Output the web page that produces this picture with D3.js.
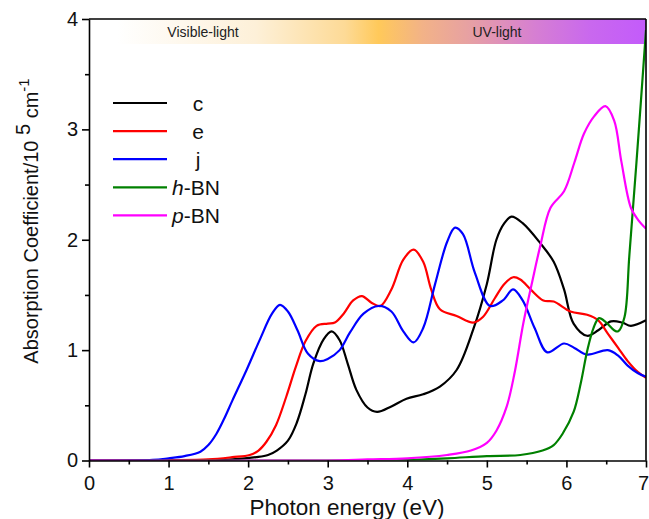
<!DOCTYPE html>
<html>
<head>
<meta charset="utf-8">
<script src="https://cdn.jsdelivr.net/npm/d3@7"></script>
<style>
  html, body { margin: 0; padding: 0; background: #fff; }
  svg { display: block; font-family: "Liberation Sans", Arial, sans-serif; }
</style>
</head>
<body>
<svg id="chart" width="649" height="519"></svg>
<script>
// Absorption spectra: photon energy (eV) vs absorption coefficient (10^5 cm^-1)
const cEnergy = [0, 1, 1.8, 2.1, 2.25, 2.36, 2.5, 2.61, 2.72, 2.82, 2.95, 3.05, 3.15, 3.25, 3.36, 3.5, 3.62, 3.8, 3.99, 4.2, 4.41, 4.62, 4.83, 5.0, 5.12, 5.22, 5.31, 5.45, 5.67, 5.84, 5.97, 6.09, 6.26, 6.4, 6.56, 6.7, 6.81, 7.0];
const cValues = [0, 0, 0.01, 0.03, 0.05, 0.09, 0.18, 0.34, 0.6, 0.88, 1.1, 1.17, 1.09, 0.88, 0.64, 0.48, 0.44, 0.49, 0.56, 0.6, 0.67, 0.82, 1.19, 1.6, 2.0, 2.15, 2.21, 2.15, 1.97, 1.8, 1.55, 1.24, 1.13, 1.18, 1.26, 1.25, 1.22, 1.27];

const eEnergy = [0, 1.0, 1.5, 1.8, 2.02, 2.13, 2.23, 2.35, 2.48, 2.6, 2.72, 2.86, 3.0, 3.09, 3.2, 3.32, 3.43, 3.55, 3.66, 3.8, 3.95, 4.08, 4.2, 4.3, 4.41, 4.62, 4.83, 4.95, 5.1, 5.22, 5.33, 5.42, 5.55, 5.71, 5.84, 6.05, 6.26, 6.4, 6.52, 6.65, 6.77, 6.9, 7.0];
const eValues = [0, 0.003, 0.01, 0.03, 0.05, 0.09, 0.17, 0.32, 0.58, 0.85, 1.08, 1.22, 1.24, 1.25, 1.33, 1.45, 1.49, 1.43, 1.40, 1.55, 1.82, 1.91, 1.8, 1.55, 1.37, 1.31, 1.25, 1.3, 1.47, 1.6, 1.66, 1.64, 1.55, 1.45, 1.44, 1.35, 1.32, 1.27, 1.15, 1.02, 0.9, 0.8, 0.75];

const jEnergy = [0, 0.8, 1.0, 1.2, 1.4, 1.5, 1.6, 1.7, 1.8, 1.98, 2.15, 2.3, 2.4, 2.5, 2.62, 2.75, 2.9, 3.0, 3.15, 3.28, 3.45, 3.64, 3.8, 3.95, 4.08, 4.2, 4.35, 4.5, 4.6, 4.7, 4.85, 5.04, 5.2, 5.33, 5.45, 5.6, 5.76, 5.97, 6.1, 6.26, 6.52, 6.65, 6.77, 6.9, 7.0];
const jValues = [0, 0.005, 0.02, 0.04, 0.08, 0.14, 0.24, 0.38, 0.54, 0.82, 1.1, 1.33, 1.41, 1.35, 1.18, 0.97, 0.90, 0.92, 1.0, 1.16, 1.33, 1.40, 1.35, 1.17, 1.07, 1.2, 1.6, 1.98, 2.11, 2.05, 1.7, 1.40, 1.45, 1.55, 1.45, 1.2, 0.98, 1.06, 1.02, 0.96, 1.0, 0.95, 0.86, 0.79, 0.76];

const hbnEnergy = [0, 3.5, 4.0, 4.5, 5.0, 5.42, 5.7, 5.84, 5.95, 6.09, 6.18, 6.26, 6.34, 6.41, 6.5, 6.6, 6.65, 6.73, 6.79, 6.88, 7.0];
const hbnValues = [0, 0, 0.005, 0.02, 0.04, 0.05, 0.09, 0.14, 0.24, 0.44, 0.7, 0.99, 1.2, 1.29, 1.25, 1.18, 1.17, 1.3, 1.85, 2.7, 3.9];

const pbnEnergy = [0, 3.0, 3.5, 4.0, 4.5, 4.8, 5.0, 5.12, 5.25, 5.35, 5.46, 5.57, 5.67, 5.8, 5.97, 6.1, 6.22, 6.35, 6.49, 6.6, 6.69, 6.81, 6.9, 7.0];
const pbnValues = [0, 0, 0.01, 0.02, 0.05, 0.09, 0.16, 0.27, 0.49, 0.8, 1.25, 1.62, 1.94, 2.29, 2.44, 2.7, 2.96, 3.12, 3.21, 3.08, 2.71, 2.29, 2.18, 2.10];

const seriesNames = ["c", "e", "j", "h-BN", "p-BN"];
const seriesColors = ["#000000", "#ff0000", "#0000ff", "#008000", "#ff00ff"];

const xTicks = [0, 1, 2, 3, 4, 5, 6, 7];
const yTicks = [0, 1, 2, 3, 4];

const series = [
  { name: seriesNames[0], color: seriesColors[0], x: cEnergy, y: cValues },
  { name: seriesNames[1], color: seriesColors[1], x: eEnergy, y: eValues },
  { name: seriesNames[2], color: seriesColors[2], x: jEnergy, y: jValues },
  { name: seriesNames[3], color: seriesColors[3], x: hbnEnergy, y: hbnValues },
  { name: seriesNames[4], color: seriesColors[4], x: pbnEnergy, y: pbnValues }
];

const svg = d3.select("#chart");
const plotLeft = 89, plotRight = 646, plotTop = 19, plotBottom = 460.5;

const x = d3.scaleLinear().domain([0, 7]).range([plotLeft, plotRight]);
const y = d3.scaleLinear().domain([0, 4]).range([plotBottom, plotTop]);

// Spectral band strip along the top of the plot
const defs = svg.append("defs");
const grad = defs.append("linearGradient").attr("id", "band")
  .attr("x1", "0%").attr("x2", "100%").attr("y1", "0%").attr("y2", "0%");
[
  [0, "#ffffff"], [0.05, "#ffffff"], [0.3, "#fdf0d8"], [0.46, "#fdda96"],
  [0.52, "#ffc95a"], [0.6, "#f2b288"], [0.68, "#e7a1a2"], [0.8, "#d67fd2"],
  [0.9, "#c968ee"], [1, "#c35bfb"]
].forEach(([o, c]) => grad.append("stop").attr("offset", o).attr("stop-color", c));

defs.append("clipPath").attr("id", "plotClip").append("rect")
  .attr("x", plotLeft).attr("y", plotTop)
  .attr("width", plotRight - plotLeft).attr("height", plotBottom - plotTop);

svg.append("rect")
  .attr("x", plotLeft).attr("y", plotTop)
  .attr("width", plotRight - plotLeft).attr("height", 25)
  .attr("fill", "url(#band)");

svg.append("text").attr("x", 203).attr("y", 37).attr("text-anchor", "middle")
  .attr("font-size", 14).attr("fill", "#222").text("Visible-light");
svg.append("text").attr("x", 497).attr("y", 37).attr("text-anchor", "middle")
  .attr("font-size", 14).attr("fill", "#222").text("UV-light");

// Curves
const line = d3.line()
  .x(d => x(d[0]))
  .y(d => y(d[1]))
  .curve(d3.curveCatmullRom.alpha(0.5));

const curves = svg.append("g").attr("clip-path", "url(#plotClip)");
series.forEach(s => {
  const pts = s.x.map((e, i) => [e, s.y[i]]);
  curves.append("path")
    .attr("d", line(pts))
    .attr("fill", "none")
    .attr("stroke", s.color)
    .attr("stroke-width", 2.2)
    .attr("stroke-linejoin", "round");
});

// Frame: top and right borders
svg.append("line").attr("x1", plotLeft).attr("x2", plotRight).attr("y1", plotTop).attr("y2", plotTop)
  .attr("stroke", "#000").attr("stroke-width", 1.6);
svg.append("line").attr("x1", plotRight).attr("x2", plotRight).attr("y1", plotTop).attr("y2", plotBottom)
  .attr("stroke", "#000").attr("stroke-width", 1.6);

// Axes
const xMinor = d3.range(0.5, 7, 1);
const yMinor = d3.range(0.5, 4, 1);

const xAxis = svg.append("g").attr("transform", `translate(0,${plotBottom})`)
  .call(d3.axisBottom(x).tickValues(xTicks).tickFormat(d3.format("d")).tickSize(7).tickSizeOuter(0));
svg.append("g").attr("transform", `translate(0,${plotBottom})`)
  .call(d3.axisBottom(x).tickValues(xMinor).tickFormat("").tickSize(4).tickSizeOuter(0))
  .select(".domain").remove();

const yAxis = svg.append("g").attr("transform", `translate(${plotLeft},0)`)
  .call(d3.axisLeft(y).tickValues(yTicks).tickFormat(d3.format("d")).tickSize(7).tickSizeOuter(0));
svg.append("g").attr("transform", `translate(${plotLeft},0)`)
  .call(d3.axisLeft(y).tickValues(yMinor).tickFormat("").tickSize(4).tickSizeOuter(0))
  .select(".domain").remove();

svg.selectAll(".domain").attr("stroke", "#000").attr("stroke-width", 1.6);
svg.selectAll(".tick line").attr("stroke", "#000").attr("stroke-width", 1.6);
xAxis.selectAll(".tick text").attr("font-size", 20).attr("fill", "#111")
  .attr("font-family", "Liberation Sans, Arial, sans-serif").attr("dy", "0.95em")
  .attr("dx", d => d === 7 ? -3 : 0);
yAxis.selectAll(".tick text").attr("font-size", 20).attr("fill", "#111")
  .attr("font-family", "Liberation Sans, Arial, sans-serif").attr("x", -11);

// Axis titles
svg.append("text").attr("x", 347).attr("y", 515).attr("text-anchor", "middle")
  .attr("font-size", 22.5).attr("fill", "#111").text("Photon energy (eV)");

const yTitle = svg.append("text")
  .attr("transform", "translate(38,221) rotate(-90)")
  .attr("text-anchor", "middle")
  .attr("font-size", 20).attr("fill", "#111");
yTitle.append("tspan").text("Absorption Coefficient/10 ");
yTitle.append("tspan").attr("dy", -8).text("5");
yTitle.append("tspan").attr("dy", 8).text(" cm");
yTitle.append("tspan").attr("dy", -9).attr("font-size", 15).text("-1");

// Legend
const legend = svg.append("g");
series.forEach((s, i) => {
  const ly = 103 + i * 28.1;
  legend.append("line")
    .attr("x1", 113).attr("x2", 167).attr("y1", ly).attr("y2", ly)
    .attr("stroke", s.color).attr("stroke-width", 2.2);
  const t = legend.append("text").attr("y", ly).attr("dy", "0.36em")
    .attr("font-size", 21).attr("fill", "#111");
  if (s.name.includes("-")) {
    const [pre, post] = s.name.split("-");
    t.attr("x", 172);
    t.append("tspan").attr("font-style", "italic").text(pre);
    t.append("tspan").text("-" + post);
  } else {
    t.attr("x", 198).attr("text-anchor", "middle").text(s.name);
  }
});
</script>
</body>
</html>
